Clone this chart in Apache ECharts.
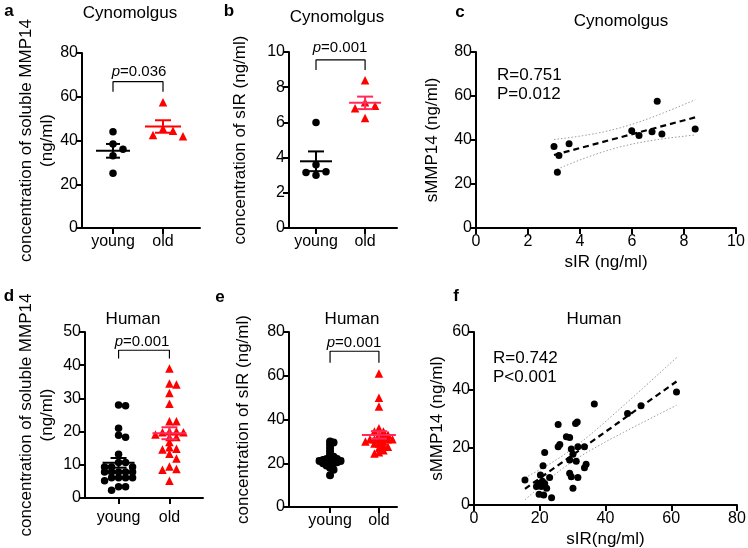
<!DOCTYPE html>
<html>
<head>
<meta charset="utf-8">
<script src="https://cdn.jsdelivr.net/npm/echarts@6/dist/echarts.min.js"></script>
<style>
html, body { margin: 0; padding: 0; background: #fff; }
#chart { width: 748px; height: 548px; }
</style>
</head>
<body>
<div id="chart"></div>
<script>
var groups = ['young', 'old']

// a: cynomolgus, soluble MMP14 (ng/ml)
var cynoMmpYoung = [44, 38.4, 36, 33, 25]
var cynoMmpOld = [57.5, 45.5, 44.5, 42.5, 42]

// b: cynomolgus, sIR (ng/ml)
var cynoSirYoung = [6.0, 3.6, 3.2, 3.15, 3.0]
var cynoSirOld = [8.4, 7.15, 6.95, 6.8, 6.25]

// c: cynomolgus, sIR vs sMMP14 per animal
var cynoCorrSir = [3.0, 3.19, 3.13, 3.58, 5.99, 6.27, 6.77, 6.97, 7.15, 8.43]
var cynoCorrMmp = [37, 33, 25.3, 38.3, 44.2, 42.1, 43.8, 57.6, 42.7, 45]

// d: human, soluble MMP14 (ng/ml)
var humMmpYoung = [27.8, 28, 21, 18.3, 18.9, 13.2, 10.7, 10.7, 9.3, 9.3, 9.3, 7.8, 7.8, 7.8, 7.8, 7.8,
  6.1, 6.1, 6.1, 6.1, 5.2, 3.4, 3.4, 2.3]
var humMmpOld = [39, 34.5, 34.2, 31.6, 28.4, 23.1, 23.1, 19.1, 19.8, 20.1, 20.1, 19.8, 18.4, 18.4, 16.9,
  14.6, 14.8, 15.3, 13.3, 11.9, 8.7, 9.5, 8.5, 5.2]

// e: human, sIR (ng/ml)
var humSirYoung = [30, 29.5, 28.5, 27, 25.5, 24, 23, 22.5, 22, 22, 21.5, 21.5, 21, 21, 21, 20.5, 20.5,
  20, 20, 19.5, 19, 18, 17, 14.5]
var humSirOld = [61, 50, 46, 36, 34.5, 34.5, 33, 33, 32, 31, 31, 31, 31, 31, 30, 30, 29, 29, 28, 27.5,
  27, 26, 25, 24.5]

// f: human, sIR vs sMMP14 per subject
var humCorrSir = [36.6, 25.6, 30.9, 31.4, 28.1, 29.1, 25.6, 26.1, 21.5, 29.6, 31.6, 33.6, 30.1, 29.1,
  31.1, 34.1, 33.6, 21.0, 29.1, 29.6, 31.6, 23.0, 15.5, 20.2, 20.8, 19.5, 21.5, 19.0, 20.5, 22.1,
  19.8, 21.2, 30.1, 23.6, 46.7, 50.8, 61.6]
var humCorrMmp = [35.0, 27.9, 28.3, 28.8, 23.7, 23.4, 20.2, 21.0, 18.2, 19.4, 20.2, 20.2, 17.6, 15.6,
  15.2, 14.1, 12.9, 13.6, 11.0, 9.8, 9.5, 9.5, 8.7, 10.4, 8.2, 7.5, 7.5, 6.4, 6.4, 5.8,
  3.7, 3.5, 5.8, 2.5, 31.7, 34.4, 39.2]

var FONT = '"Liberation Sans", Arial, Helvetica, sans-serif'
var RED = '#ff0000'
var RED_BAR = '#ff2a5a'

function mean(a) { return a.reduce(function (s, v) { return s + v }, 0) / a.length }
function sem(a) {
    var m = mean(a)
    var ss = a.reduce(function (s, v) { return s + (v - m) * (v - m) }, 0)
    return Math.sqrt(ss / (a.length - 1)) / Math.sqrt(a.length)
}

// simple beeswarm: spread points sideways in steps of `gap` px,
// a slot is taken when another point sits closer than `minDist` px
function swarm(values, pos, pxY, pxX, gap, minDist) {
    var order = values.map(function (v, i) { return i }).sort(function (a, b) { return values[b] - values[a] })
    var placed = []
    var out = []
    order.forEach(function (i) {
        var py = values[i] * pxY
        for (var k = 0; k < 60; k++) {
            var step = k === 0 ? 0 : (k % 2 ? 1 : -1) * Math.ceil(k / 2)
            var px = step * gap
            var free = placed.every(function (p) { return Math.hypot(p[0] - px, p[1] - py) >= minDist })
            if (free) {
                placed.push([px, py])
                out.push([pos + px / pxX, values[i]])
                break
            }
        }
    })
    return out
}

function fit(xs, ys) {
    var n = xs.length, mx = mean(xs), my = mean(ys), sxx = 0, sxy = 0, sse = 0
    xs.forEach(function (x, i) { sxx += (x - mx) * (x - mx); sxy += (x - mx) * (ys[i] - my) })
    var b = sxy / sxx, a = my - b * mx
    xs.forEach(function (x, i) { var r = ys[i] - a - b * x; sse += r * r })
    return { a: a, b: b, mx: mx, sxx: sxx, n: n, s: Math.sqrt(sse / (n - 2)) }
}

function tCrit(df) {
    var z = 1.96
    return z + (z * z * z + z) / (4 * df) + (5 * Math.pow(z, 5) + 16 * z * z * z + 3 * z) / (96 * df * df)
}

var grids = [
    { left: 82, top: 53, width: 118, height: 175 },
    { left: 289, top: 52, width: 108, height: 176 },
    { left: 476, top: 52, width: 260, height: 176 },
    { left: 85, top: 332, width: 118, height: 166 },
    { left: 289, top: 332, width: 108, height: 175 },
    { left: 474, top: 332, width: 263, height: 173 }
]
grids.forEach(function (g) { g.outerBoundsMode = 'none'; g.containLabel = false })

var xRange = [[-0.62, 1.74], [-0.55, 1.65], [0, 10], [-0.66, 1.66], [-0.84, 1.37], [0, 80]]
var yRange = [[80, 20], [10, 2], [80, 20], [50, 10], [80, 20], [60, 20]]

var axisLineStyle = { color: '#000', width: 2 }
var labelStyle = { color: '#000', fontSize: 16, fontFamily: FONT }

var xAxes = xRange.map(function (r, i) {
    var isGroup = !(i === 2 || i === 5)
    var ax = {
        gridIndex: i, type: 'value', min: r[0], max: r[1],
        axisLine: { show: true, onZero: false, lineStyle: axisLineStyle },
        axisTick: { show: true, length: 6, lineStyle: { color: '#000', width: 2 } },
        axisLabel: Object.assign({ margin: 6 }, labelStyle),
        splitLine: { show: false }
    }
    if (isGroup) {
        ax.axisTick.customValues = [0, 1]
        ax.axisLabel.customValues = [0, 1]
        ax.axisLabel.margin = i === 3 ? 12 : 6
        ax.axisLabel.formatter = function (v) { return groups[Math.round(v)] }
    } else {
        ax.interval = i === 2 ? 2 : 20
        ax.name = i === 2 ? 'sIR (ng/ml)' : 'sIR(ng/ml)'
        ax.nameLocation = 'middle'
        ax.nameGap = 26
        ax.nameMoveOverlap = false
        ax.nameTextStyle = { color: '#000', fontSize: 17, fontFamily: FONT }
    }
    return ax
})

var yNames = [
    ['concentration of soluble MMP14\n(ng/ml)', 24],
    ['concentration of sIR (ng/ml)', 38],
    ['sMMP14 (ng/ml)', 33],
    ['concentration of soluble MMP14\n(ng/ml)', 27],
    ['concentration of sIR (ng/ml)', 35],
    ['sMMP14 (ng/ml)', 26]
]

var yAxes = yRange.map(function (r, i) {
    return {
        gridIndex: i, type: 'value', min: 0, max: r[0], interval: r[1],
        name: yNames[i][0], nameLocation: 'middle', nameGap: yNames[i][1], nameMoveOverlap: false,
        nameTextStyle: { color: '#000', fontSize: 17, fontFamily: FONT, lineHeight: 21 },
        axisLine: { show: true, onZero: false, lineStyle: axisLineStyle },
        axisTick: { show: true, length: 6, lineStyle: { color: '#000', width: 2 } },
        axisLabel: Object.assign({ margin: 4 }, labelStyle),
        splitLine: { show: false }
    }
})

function pxScale(i) {
    return {
        y: grids[i].height / yRange[i][0],
        x: grids[i].width / (xRange[i][1] - xRange[i][0])
    }
}

var series = []

function dots(i, vals, pos, symbol, color, size, gap, minDist) {
    var k = pxScale(i)
    series.push({
        type: 'scatter', xAxisIndex: i, yAxisIndex: i, symbol: symbol, symbolSize: size,
        itemStyle: { color: color, opacity: 1 }, silent: true, z: 3,
        data: swarm(vals, pos, k.y, k.x, gap, minDist)
    })
}

function errorBars(i, vals, pos, color, meanHalf, capHalf) {
    var m = mean(vals), s = sem(vals)
    series.push({
        type: 'custom', xAxisIndex: i, yAxisIndex: i, silent: true, z: 5,
        data: [[pos, m, m - s, m + s]],
        renderItem: function (params, api) {
            var c = api.coord([api.value(0), api.value(1)])
            var lo = api.coord([api.value(0), api.value(2)])
            var hi = api.coord([api.value(0), api.value(3)])
            var st = { stroke: color, lineWidth: 2 }
            return {
                type: 'group', children: [
                    { type: 'line', shape: { x1: c[0] - meanHalf, y1: c[1], x2: c[0] + meanHalf, y2: c[1] }, style: st },
                    { type: 'line', shape: { x1: c[0], y1: lo[1], x2: c[0], y2: hi[1] }, style: st },
                    { type: 'line', shape: { x1: c[0] - capHalf, y1: hi[1], x2: c[0] + capHalf, y2: hi[1] }, style: st },
                    { type: 'line', shape: { x1: c[0] - capHalf, y1: lo[1], x2: c[0] + capHalf, y2: lo[1] }, style: st }
                ]
            }
        }
    })
}

function bracket(i, lo, hi) {
    series.push({
        type: 'line', xAxisIndex: i, yAxisIndex: i, silent: true, symbol: 'none', clip: false,
        lineStyle: { color: '#000', width: 1.2 },
        data: [[0, lo], [0, hi], [1, hi], [1, lo]]
    })
}

function regression(i, xs, ys, size) {
    var f = fit(xs, ys)
    var t = tCrit(f.n - 2)
    var x0 = Math.min.apply(null, xs), x1 = Math.max.apply(null, xs)
    var line = [[x0, f.a + f.b * x0], [x1, f.a + f.b * x1]]
    var up = [], dn = []
    for (var k = 0; k <= 40; k++) {
        var x = x0 + (x1 - x0) * k / 40
        var yh = f.a + f.b * x
        var h = t * f.s * Math.sqrt(1 / f.n + (x - f.mx) * (x - f.mx) / f.sxx)
        up.push([x, yh + h])
        dn.push([x, yh - h])
    }
    var band = { color: '#9a9a9a', width: 1, type: [1.5, 2] }
    series.push(
        { type: 'line', xAxisIndex: i, yAxisIndex: i, silent: true, symbol: 'none', z: 2, lineStyle: band, data: up },
        { type: 'line', xAxisIndex: i, yAxisIndex: i, silent: true, symbol: 'none', z: 2, lineStyle: band, data: dn },
        { type: 'line', xAxisIndex: i, yAxisIndex: i, silent: true, symbol: 'none', z: 4,
          lineStyle: { color: '#000', width: 2.2, type: [6, 4] }, data: line },
        { type: 'scatter', xAxisIndex: i, yAxisIndex: i, silent: true, symbolSize: size, z: 3,
          itemStyle: { color: '#000', opacity: 1 }, data: xs.map(function (x, j) { return [x, ys[j]] }) }
    )
}

// a
dots(0, cynoMmpYoung, 0, 'circle', '#000', 7.5, 10, 9)
dots(0, cynoMmpOld, 1, 'triangle', RED, 8.5, 10, 9)
errorBars(0, cynoMmpYoung, 0, '#000', 17, 7)
errorBars(0, cynoMmpOld, 1, RED, 18, 8)
bracket(0, 62.3, 66.9)
// b
dots(1, cynoSirYoung, 0, 'circle', '#000', 7.5, 10, 9)
dots(1, cynoSirOld, 1, 'triangle', RED, 8.5, 10, 9)
errorBars(1, cynoSirYoung, 0, '#000', 16, 8)
errorBars(1, cynoSirOld, 1, RED_BAR, 16, 8)
bracket(1, 8.98, 9.55)
// c
regression(2, cynoCorrSir, cynoCorrMmp, 7)
// d
dots(3, humMmpYoung, 0, 'circle', '#000', 7.5, 7, 4.8)
dots(3, humMmpOld, 1, 'triangle', RED, 8.5, 7, 4.8)
errorBars(3, humMmpYoung, 0, '#000', 16, 8)
errorBars(3, humMmpOld, 1, RED_BAR, 17, 8)
bracket(3, 42, 44.5)
// e
dots(4, humSirYoung, 0, 'circle', '#000', 8, 3.5, 3)
dots(4, humSirOld, 1, 'triangle', RED, 8.5, 4.5, 3.6)
errorBars(4, humSirYoung, 0, '#000', 14, 8)
errorBars(4, humSirOld, 1, RED_BAR, 17, 8)
bracket(4, 66, 71.2)
// f
regression(5, humCorrSir, humCorrMmp, 7)

function txt(x, y, s, size, extra) {
    return {
        type: 'text', x: x, y: y, silent: true,
        style: Object.assign({
            text: s, fill: '#000', fontSize: size, fontFamily: FONT,
            align: 'center', verticalAlign: 'middle', textAlign: 'center', textVerticalAlign: 'middle'
        }, extra || {})
    }
}

function pText(x, y, value) {
    return txt(x, y, '{i|p}{n|=' + value + '}', 15, {
        rich: {
            i: { fontStyle: 'italic', fontSize: 15, fontFamily: FONT, fill: '#000' },
            n: { fontSize: 15, fontFamily: FONT, fill: '#000' }
        }
    })
}

var left = { align: 'left', textAlign: 'left' }
var bold = { fontWeight: 'bold' }

var graphic = [
    txt(9, 11, 'a', 17, bold), txt(229, 11, 'b', 17, bold), txt(460, 12, 'c', 17, bold),
    txt(9, 296, 'd', 17, bold), txt(220, 297, 'e', 17, bold), txt(456, 296, 'f', 17, bold),
    txt(130, 13, 'Cynomolgus', 17), txt(337, 17, 'Cynomolgus', 17), txt(621, 21, 'Cynomolgus', 17),
    txt(133, 319, 'Human', 17), txt(352, 319, 'Human', 17), txt(594, 319, 'Human', 17),
    pText(139, 72, '0.036'), pText(340, 48, '0.001'), pText(142, 342, '0.001'), pText(354, 343, '0.001'),
    txt(497, 75, 'R=0.751', 17, left), txt(497, 94, 'P=0.012', 17, left),
    txt(493, 358, 'R=0.742', 17, left), txt(493, 377, 'P<0.001', 17, left)
]

var chart = echarts.init(document.getElementById('chart'))
chart.setOption({
    animation: false,
    backgroundColor: '#fff',
    grid: grids,
    xAxis: xAxes,
    yAxis: yAxes,
    series: series,
    graphic: graphic
})
</script>
</body>
</html>
